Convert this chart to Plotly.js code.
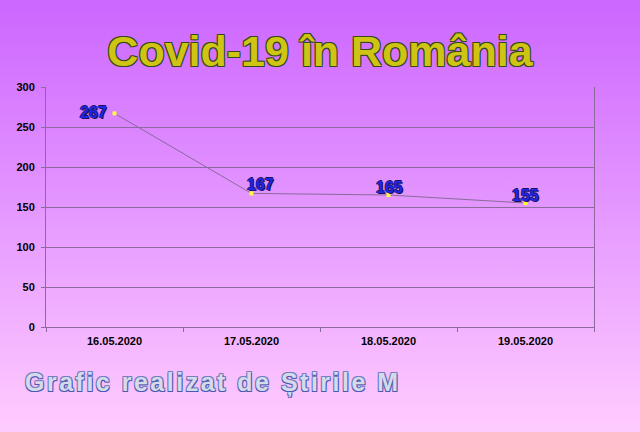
<!DOCTYPE html>
<html>
<head>
<meta charset="utf-8">
<script src="https://cdn.plot.ly/plotly-3.0.1.min.js"></script>
<style>
html, body { margin: 0; padding: 0; }
#chart { width: 640px; height: 432px; background: linear-gradient(to bottom, #CC66FF 0%, #FFCCFF 100%); }
</style>
</head>
<body>
<div id="chart"></div>
<script>
const categories = ['16.05.2020', '17.05.2020', '18.05.2020', '19.05.2020'];
const cases = [267, 167, 165, 155];
const yTicks = [0, 50, 100, 150, 200, 250, 300];
const titleText = 'Covid-19 în România';
const footerText = 'Grafic realizat de Știrile M';

// label offsets (styling, pixels)
const labelDX = [-21, 9, 1, 0];
const labelDY = [1, 9, 8, 8];

const FONT = 'Arial, Liberation Sans, sans-serif';

const trace = {
  x: categories,
  y: cases,
  type: 'scatter',
  mode: 'lines+markers',
  line: { color: '#8A6A9A', width: 1 },
  marker: { symbol: 'square', size: 4, color: '#FFFF33' },
  cliponaxis: false,
  hoverinfo: 'none'
};

const labelAnnotations = categories.map((c, i) => ({
  x: c, y: cases[i], xref: 'x', yref: 'y',
  text: String(cases[i]),
  showarrow: false,
  xshift: labelDX[i], yshift: labelDY[i],
  xanchor: 'center', yanchor: 'middle',
  font: { family: FONT, size: 16, color: '#2424E6', weight: 'bold',
          shadow: '1px 1px 0 #141460, -1px 0 0 #141460, 0 -1px 0 #141460' }
}));

const layout = {
  width: 640, height: 432,
  paper_bgcolor: 'rgba(0,0,0,0)',
  plot_bgcolor: 'rgba(0,0,0,0)',
  margin: { l: 46, r: 46, t: 87, b: 105 },
  showlegend: false,
  title: {
    text: titleText,
    x: 0.5, xanchor: 'center', y: 0.883, yanchor: 'middle',
    font: { family: FONT, size: 43, weight: 'bold', color: '#CFC414',
            shadow: '1px 1px 0 #34481A, -1px -1px 0 #34481A, 1px -1px 0 #34481A, -1px 1px 0 #34481A' }
  },
  xaxis: {
    type: 'category',
    range: [-0.5, 3.5],
    showgrid: false,
    showline: true, linecolor: '#8C6A9C', linewidth: 1,
    ticks: 'outside', tickson: 'boundaries', ticklen: 4, tickcolor: '#8C6A9C',
    ticklabelstandoff: 4,
    tickfont: { family: FONT, size: 11, weight: 'bold', color: '#000' },
    fixedrange: true
  },
  yaxis: {
    range: [0, 300],
    tickvals: yTicks,
    showgrid: true, gridcolor: '#8C6A9C', gridwidth: 1,
    showline: true, mirror: true, linecolor: '#8C6A9C', linewidth: 1,
    ticks: 'outside', ticklen: 4, tickcolor: '#8C6A9C',
    ticklabelstandoff: 4,
    tickfont: { family: FONT, size: 11, weight: 'bold', color: '#000' },
    zeroline: false,
    fixedrange: true
  },
  annotations: labelAnnotations.concat([{
    text: footerText,
    xref: 'paper', yref: 'paper',
    x: 0.305, y: -0.23, xanchor: 'center', yanchor: 'middle',
    showarrow: false,
    font: { family: FONT, size: 25, weight: 'bold', color: '#D6DAEA',
            shadow: '1px 1px 0 #4A5AB0, -1px -1px 0 #7080C0, 1px -1px 0 #7080C0, -1px 1px 0 #4A5AB0' }
  }])
};

Plotly.newPlot('chart', [trace], layout, { displayModeBar: false, staticPlot: true }).then(gd => {
  const texts = gd.querySelectorAll('.annotation-text');
  texts.forEach(t => {
    if (t.textContent === footerText) t.style.letterSpacing = '2.5px';
  });
});
</script>
</body>
</html>
